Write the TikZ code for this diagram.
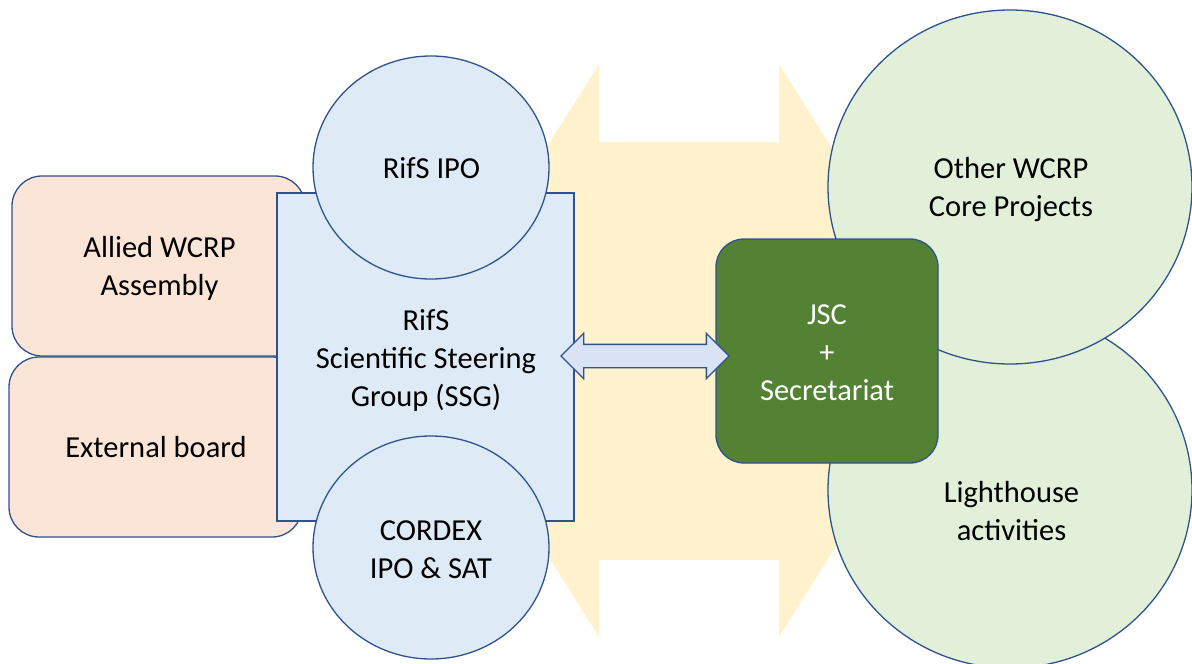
\documentclass[tikz,border=0pt]{standalone}
\usepackage{fontspec}
\setmainfont{Carlito}
\usetikzlibrary{shapes.geometric,shapes.arrows,calc}
\definecolor{bord}{RGB}{47,82,143}
\definecolor{pinkf}{RGB}{251,229,214}
\definecolor{bluef}{RGB}{222,235,247}
\definecolor{greenf}{RGB}{226,240,217}
\definecolor{darkg}{RGB}{84,130,53}
\definecolor{yellowf}{RGB}{255,242,204}
\definecolor{arrowf}{RGB}{218,227,243}
\begin{document}
\begin{tikzpicture}[x=1pt,y=-1pt,
  shapebase/.style={draw=bord,line width=1.3pt,inner sep=0pt,outer sep=0pt},
  pinkbox/.style={shapebase,fill=pinkf,rounded corners=30pt,rectangle,minimum width=293pt,minimum height=180pt},
  ssgbox/.style={shapebase,fill=bluef,rectangle,minimum width=297pt,minimum height=328pt},
  bluecirc/.style={shapebase,fill=bluef,ellipse,minimum width=236pt,minimum height=223pt},
  greencirc/.style={shapebase,fill=greenf,ellipse,minimum width=364pt,minimum height=#1},
  jscbox/.style={shapebase,fill=darkg,rectangle,rounded corners=28pt,minimum width=222pt,minimum height=224pt},
  linkarrow/.style={shapebase,fill=arrowf,double arrow,double arrow tip angle=90,double arrow head extend=11pt,text height=11pt,text depth=11pt,minimum height=168pt,minimum width=44pt},
  txt/.style={font=\fontsize{30.5}{37.7}\selectfont,align=center,inner sep=0pt,anchor=base},
]
\useasboundingbox (0,0) rectangle (1192,664);
% big yellow background double arrow
\fill[yellowf] (419,350.5) -- (599,64) -- (599,142) -- (779,142) -- (779,64) -- (959,350.5)
  -- (779,637) -- (779,560) -- (599,560) -- (599,637) -- cycle;
% left column
\node[pinkbox] (allied) at (158.5,266) {};
\node[pinkbox] (external) at (155.5,447) {};
\node[ssgbox] (ssg) at (425.5,357) {};
\node[bluecirc] (ipo) at (431,167.5) {};
\node[bluecirc] (cordex) at (431,547.5) {};
% right column
\node[greencirc=356pt] (light) at (1010,490) {};
\node[greencirc=354pt] (other) at (1010,187) {};
\node[jscbox] (jsc) at (827,351) {};
% link
\coordinate (ltip) at (561,356);
\coordinate (rtip) at (729,356);
\node[linkarrow] (link) at ($(ltip)!0.5!(rtip)$) {};
% texts
\node[txt] (talliedtxt) at (159.5,295) {Allied WCRP\\Assembly};
\node[txt] (texttxt) at (156,457) {External board};
\node[txt] (tssg) at (426,406) {RifS\\Scientific Steering\\Group (SSG)};
\node[txt] (tipo) at (431.5,178) {RifS IPO};
\node[txt] (tcordex) at (431,578) {CORDEX\\IPO \& SAT};
\node[txt] (tother) at (1011,216) {Other WCRP\\Core Projects};
\node[txt] (tlight) at (1011.5,540) {Lighthouse\\activities};
\node[txt,text=white] (tjsc) at (827,400) {JSC\\+\\Secretariat};
\end{tikzpicture}
\end{document}
